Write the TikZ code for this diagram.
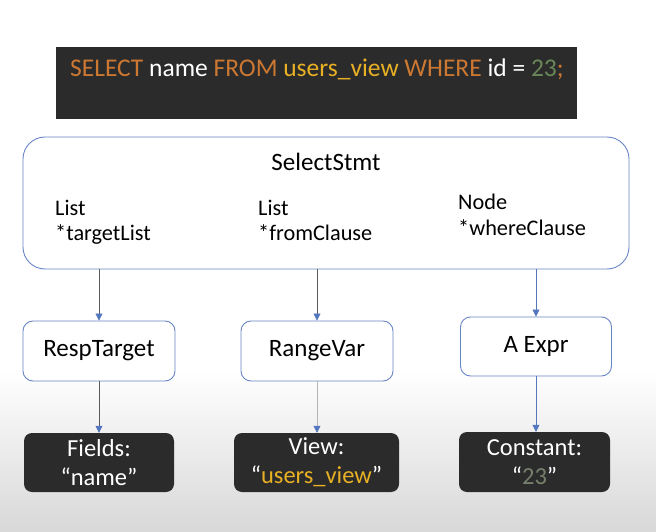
\documentclass[tikz,border=0pt]{standalone}
\usepackage{fontspec}
\setmainfont{Carlito}
\usetikzlibrary{arrows.meta}
\definecolor{codebg}{RGB}{43,43,43}
\definecolor{kworange}{RGB}{204,120,50}
\definecolor{identyellow}{RGB}{232,176,36}
\definecolor{numgreen}{RGB}{106,135,89}
\definecolor{numgrey}{RGB}{118,128,108}
\definecolor{boxblue}{RGB}{104,134,198}
\definecolor{arrowblue}{RGB}{84,118,190}
\definecolor{linegrey}{RGB}{90,90,90}
\definecolor{lightline}{RGB}{180,180,180}
\definecolor{bggrey}{RGB}{216,216,216}
\tikzset{
  bodyfont/.style={font=\fontsize{22.3}{27}\selectfont},
  titlefont/.style={font=\fontsize{25}{30}\selectfont},
  txt/.style={bodyfont, inner sep=0pt, text=black},
  whitebox/.style={draw=boxblue, line width=0.9pt, fill=white, rounded corners=10pt,
    inner sep=0pt, titlefont, text=black},
  darkbox/.style={fill=codebg, rounded corners=8pt, inner sep=0pt, text=white,
    align=center, font=\fontsize{24.5}{29}\selectfont},
  conn/.style={line width=0.7pt, -{Triangle[length=7pt,width=7pt,fill=arrowblue,color=arrowblue]}},
}
\begin{document}
\begin{tikzpicture}[x=1pt,y=-1pt]
\useasboundingbox (0,0) rectangle (656,532);
\fill[white] (0,0) rectangle (656,532);
\shade[top color=white, bottom color=bggrey] (0,370) rectangle (656,532);

% code box
\node[fill=codebg, minimum width=521pt, minimum height=72pt, inner sep=0pt] (code) at (316.5,83) {};
\node[anchor=base west, inner sep=0pt, font=\fontsize{25.5}{30}\selectfont] (sql) at (70,77)
  {\textcolor{kworange}{SELECT} \textcolor{white}{name} \textcolor{kworange}{FROM} \textcolor{identyellow}{users\_view} \textcolor{kworange}{WHERE} \textcolor{white}{id =} \textcolor{numgreen}{23}\textcolor{kworange}{;}};

% big SelectStmt box
\node[draw=boxblue, line width=0.9pt, rounded corners=22pt, minimum width=606pt, minimum height=132pt, inner sep=0pt] (sel) at (326,203) {};
\node[titlefont, inner sep=0pt, anchor=base] (seltitle) at (326,171) {SelectStmt};
\node[txt, anchor=base west] (l1a) at (55,215) {List};
\node[txt, anchor=base west] (l1b) at (55,240) {*targetList};
\node[txt, anchor=base west] (l2a) at (258,215) {List};
\node[txt, anchor=base west] (l2b) at (258,240) {*fromClause};
\node[txt, anchor=base west] (l3a) at (458,209) {Node};
\node[txt, anchor=base west] (l3b) at (458,235) {*whereClause};

% middle boxes
\node[whitebox, minimum width=152pt, minimum height=60pt] (resp) at (99,351) {RespTarget};
\node[whitebox, minimum width=152pt, minimum height=60pt] (range) at (317,351) {RangeVar};
\node[whitebox, minimum width=151pt, minimum height=59pt] (aexpr) at (536,346.5) {A Expr};

% dark result boxes
\node[darkbox, minimum width=150pt, minimum height=59pt] (fields) at (99,462.5) {Fields:\\“name”};
\node[darkbox, minimum width=165pt, minimum height=59pt] (view) at (316.5,462.5) {View:\\“\textcolor{identyellow}{users\_view}”};
\node[darkbox, minimum width=151pt, minimum height=60pt] (const) at (534.5,462) {Constant:\\“\textcolor{numgrey}{23}”};

% connectors
\draw[conn, linegrey] (sel.south -| resp.north) -- (resp.north);
\draw[conn, linegrey] (sel.south -| range.north) -- (range.north);
\draw[conn, arrowblue] (sel.south -| aexpr.north) -- (aexpr.north);
\draw[conn, linegrey] (resp.south) -- (fields.north -| resp.south);
\draw[conn, lightline] (range.south) -- (view.north -| range.south);
\draw[conn, arrowblue] (aexpr.south) -- (const.north -| aexpr.south);
\end{tikzpicture}
\end{document}
